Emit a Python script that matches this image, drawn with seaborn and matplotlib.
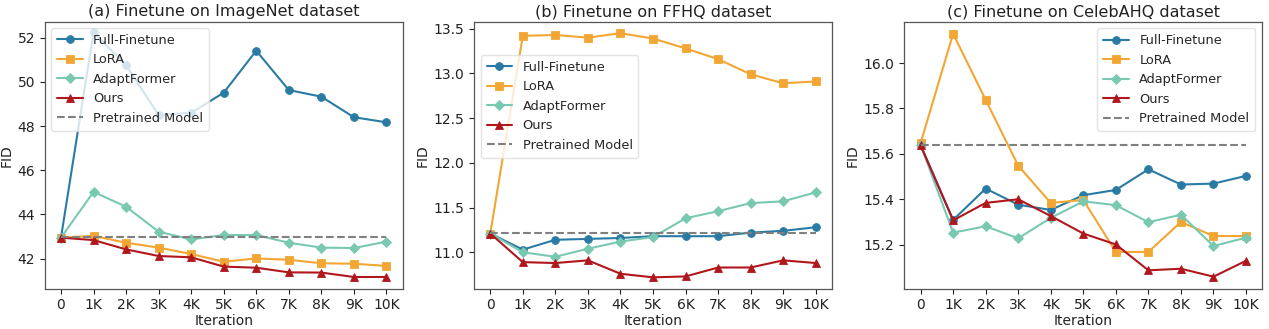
import numpy as np
import pandas as pd
import matplotlib
matplotlib.use("Agg")
import matplotlib.pyplot as plt
import seaborn as sns

sns.set_style("ticks")
plt.rcParams['font.family'] = ['DejaVu Sans']

iters = [0, 1, 2, 3, 4, 5, 6, 7, 8, 9, 10]
tick_labels = ["0", "1K", "2K", "3K", "4K", "5K", "6K", "7K", "8K", "9K", "10K"]
methods = ["Full-Finetune", "LoRA", "AdaptFormer", "Ours"]

# (a) ImageNet
a_full = [42.95, 52.24, 50.76, 48.5, 48.6, 49.51, 51.41, 49.63, 49.33, 48.40, 48.17]
a_lora = [42.95, 43.03, 42.72, 42.50, 42.21, 41.86, 42.01, 41.95, 41.79, 41.77, 41.67]
a_adapt = [42.95, 45.02, 44.35, 43.22, 42.87, 43.07, 43.07, 42.72, 42.50, 42.48, 42.77]
a_ours = [42.95, 42.84, 42.42, 42.12, 42.06, 41.64, 41.59, 41.38, 41.37, 41.17, 41.17]
a_pre = 42.97

# (b) FFHQ
b_full = [11.21, 11.03, 11.14, 11.15, 11.16, 11.18, 11.18, 11.18, 11.22, 11.24, 11.28]
b_lora = [11.21, 13.42, 13.43, 13.40, 13.45, 13.39, 13.28, 13.16, 12.99, 12.89, 12.91]
b_adapt = [11.21, 11.00, 10.95, 11.04, 11.12, 11.17, 11.38, 11.46, 11.55, 11.57, 11.67]
b_ours = [11.21, 10.89, 10.88, 10.91, 10.76, 10.72, 10.73, 10.83, 10.83, 10.91, 10.88]
b_pre = 11.22

# (c) CelebAHQ
c_full = [15.64, 15.309, 15.447, 15.376, 15.353, 15.418, 15.441, 15.532, 15.465, 15.469, 15.503]
c_lora = [15.647, 16.129, 15.838, 15.548, 15.384, 15.397, 15.168, 15.168, 15.300, 15.238, 15.238]
c_adapt = [15.64, 15.253, 15.281, 15.228, 15.318, 15.391, 15.374, 15.299, 15.332, 15.194, 15.231]
c_ours = [15.637, 15.307, 15.384, 15.400, 15.326, 15.249, 15.201, 15.087, 15.094, 15.059, 15.129]
c_pre = 15.64

titles = ["(a) Finetune on ImageNet dataset",
          "(b) Finetune on FFHQ dataset",
          "(c) Finetune on CelebAHQ dataset"]

colors = {"Full-Finetune": "#2a7ba4", "LoRA": "#f2a633",
          "AdaptFormer": "#79c8b2", "Ours": "#b0171d"}
markers = {"Full-Finetune": "o", "LoRA": "s", "AdaptFormer": "D", "Ours": "^"}
msizes = {"Full-Finetune": 5.6, "LoRA": 5.4, "AdaptFormer": 4.9, "Ours": 5.8}

panels = [
    ([a_full, a_lora, a_adapt, a_ours], a_pre, (40.64, 52.71), [42, 44, 46, 48, 50, 52], "%g"),
    ([b_full, b_lora, b_adapt, b_ours], b_pre, (10.593, 13.575), [11.0, 11.5, 12.0, 12.5, 13.0, 13.5], "%.1f"),
    ([c_full, c_lora, c_adapt, c_ours], c_pre, (15.006, 16.181), [15.2, 15.4, 15.6, 15.8, 16.0], "%.1f"),
]

fig = plt.figure(figsize=(12.69, 3.29), dpi=100)
lefts = [44.7, 474.0, 904.3]
W, H = 1269, 329
axes = [fig.add_axes([l / W, 1 - 288.7 / H, 358 / W, 266.7 / H]) for l in lefts]

for i, (ax, (series, pre, ylim, yt, fmt)) in enumerate(zip(axes, panels)):
    for m, vals in zip(methods, series):
        df = pd.DataFrame({"Iteration": iters, "FID": vals})
        sns.lineplot(data=df, x="Iteration", y="FID", ax=ax, color=colors[m],
                     marker=markers[m], markersize=msizes[m], markeredgewidth=0.6,
                     markeredgecolor=colors[m], linewidth=1.5, label=m)
    dfp = pd.DataFrame({"Iteration": iters, "FID": [pre] * len(iters)})
    sns.lineplot(data=dfp, x="Iteration", y="FID", ax=ax, color="#808080",
                 linestyle="--", linewidth=1.5, label="Pretrained Model")
    ax.set_xlim(-0.5, 10.5)
    ax.set_ylim(*ylim)
    ax.set_xticks(iters)
    ax.set_xticklabels(tick_labels)
    ax.set_yticks(yt)
    ax.set_yticklabels([fmt % v for v in yt])
    ax.tick_params(labelsize=10, colors="#222222", length=3.5, width=0.8)
    ax.set_xlabel("Iteration", fontsize=10, labelpad=1, color="#222222")
    ax.set_ylabel("FID", fontsize=10, labelpad=3, color="#222222")
    ax.set_title(titles[i], fontsize=11.5, pad=4, color="#222222")
    for s in ax.spines.values():
        s.set_visible(True)
        s.set_color("#555555")
        s.set_linewidth(0.9)

legend_kw = dict(fontsize=9.3, framealpha=0.8, edgecolor="#dddddd", handlelength=2.0,
                 borderpad=0.45, labelspacing=0.5, fancybox=True, borderaxespad=0.0)
axes[0].legend(loc="upper left", bbox_to_anchor=(0.0176, 0.977), **legend_kw)
axes[1].legend(loc="upper left", bbox_to_anchor=(0.0187, 0.876), **legend_kw)
axes[2].legend(loc="upper right", bbox_to_anchor=(0.980, 0.976), **legend_kw)

fig.savefig("out.png", dpi=100)
